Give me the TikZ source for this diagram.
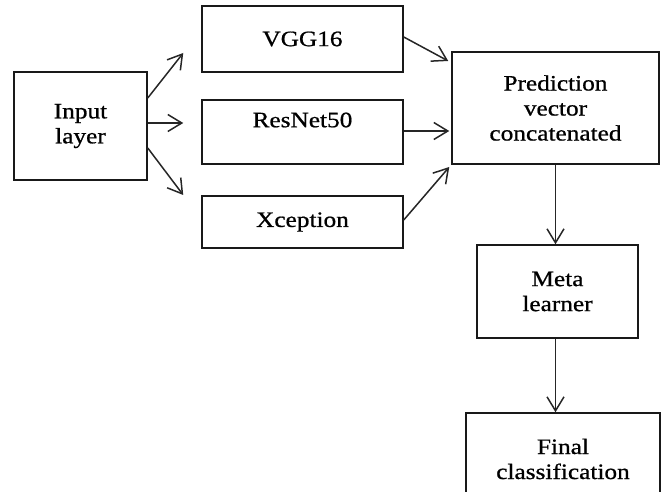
\documentclass[tikz,border=0pt]{standalone}
\usepackage{fontspec}
\setmainfont[FakeStretch=1.15,FakeBold=0.8]{Liberation Serif}
\usetikzlibrary{arrows.meta,calc}
\begin{document}
\begin{tikzpicture}[x=1pt,y=-1pt,
  box/.style={draw=black!90,line width=1.5pt,rectangle,inner sep=0pt,
    align=center,font=\fontsize{22}{25}\selectfont},
  lbl/.style={inner sep=0pt,align=center,font=\fontsize{22}{25}\selectfont},
  arr/.style={draw=black!85,line width=1.5pt,-{Straight Barb[length=14pt,width=17pt,line width=1.5pt]}}]
\useasboundingbox (0,0) rectangle (662,492);
\clip (0,0) rectangle (662,492);

% input and base models
\node[box,minimum width=133,minimum height=108] (inp) at (80.5,126) {Input\\layer};
\node[box,minimum width=201,minimum height=66] (vgg) at (302.5,39) {VGG16};
\node[box,minimum width=201,minimum height=64] (res) at (302.5,132) {};
\node[lbl] at ($(res)+(0,-12)$) {ResNet50};
\node[box,minimum width=201,minimum height=52] (xcp) at (302.5,222) {Xception};

% stacking stages
\node[box,minimum width=207,minimum height=112] (pred) at (555.5,108) {Prediction\\vector\\concatenated};
\node[box,minimum width=161,minimum height=93] (meta) at (557.5,291.5) {Meta\\learner};
\node[box,minimum width=194,minimum height=92] (final) at (563,459) {Final\\classification};

% input to base models
\draw[arr] ($(inp.east)+(0,-28)$) -- ($(vgg.west)+(-18,14)$);
\draw[arr] ($(inp.east)+(0,-3)$) -- ($(res.west)+(-18,-9)$);
\draw[arr] ($(inp.east)+(0,22)$) -- ($(xcp.west)+(-18,-27)$);

% base models to concatenation
\draw[arr] ($(vgg.east)+(0,-2)$) -- ($(pred.west)+(-3,-47)$);
\draw[arr] ($(res.east)+(0,-1)$) -- ($(pred.west)+(-2,23)$);
\draw[arr] ($(xcp.east)+(0,-2)$) -- ($(pred.west)+(-2,59)$);

% down the stack
\draw[arr] (pred.south) -- (pred.south |- meta.north);
\draw[arr] ($(meta.south)+(-2,0)$) -- ($(meta.south |- final.north)+(-2,0)$);
\end{tikzpicture}
\end{document}
